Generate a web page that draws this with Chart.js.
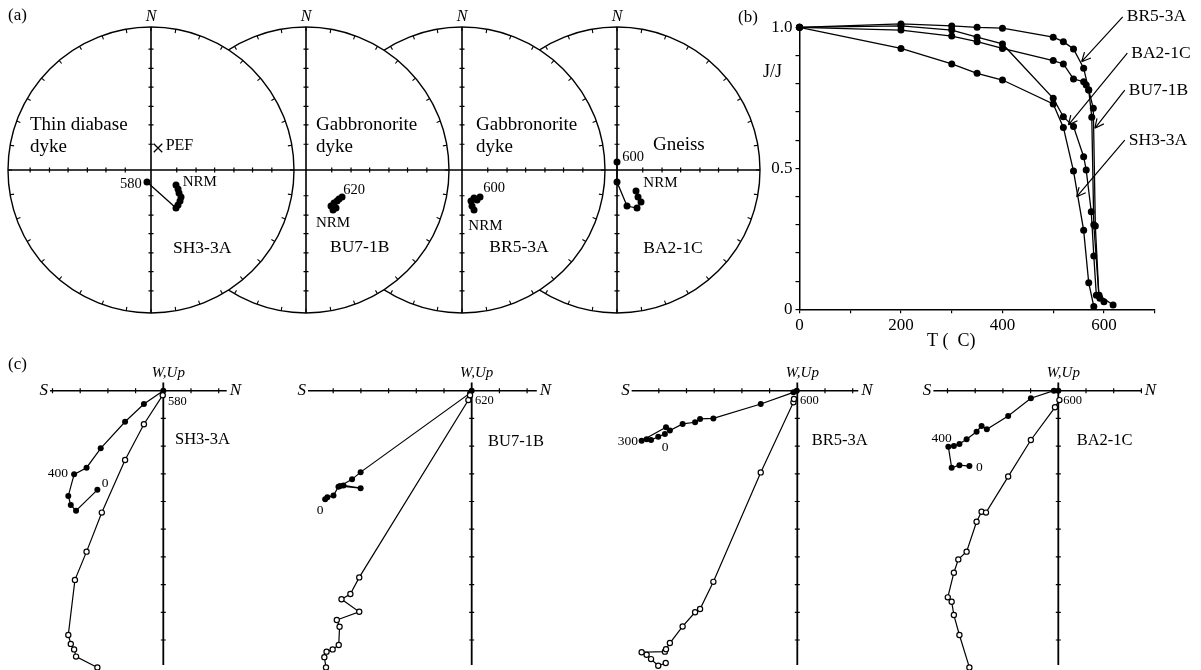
<!DOCTYPE html>
<html>
<head>
<meta charset="utf-8">
<script src="https://cdn.jsdelivr.net/npm/chart.js@4.4.0/dist/chart.umd.min.js"></script>
<style>
  body { margin: 0; background: #fff; width: 1201px; height: 670px; position: relative; overflow: hidden; }
  canvas { position: absolute; }
</style>
</head>
<body>
<canvas id="nets" width="780" height="335" style="left:0;top:0"></canvas>
<canvas id="thermal" width="481" height="360" style="left:720px;top:0"></canvas>
<canvas id="zij1" width="290" height="320" style="left:0;top:355px"></canvas>
<canvas id="zij2" width="300" height="320" style="left:290px;top:355px"></canvas>
<canvas id="zij3" width="290" height="320" style="left:610px;top:355px"></canvas>
<canvas id="zij4" width="291" height="320" style="left:910px;top:355px"></canvas>
<script>
// ---- (a) equal-area directions, net units (offset from each net's centre) ----
const sh3Dir = [[0.175,-0.105],[0.189,-0.133],[0.196,-0.161],[0.210,-0.189],[0.203,-0.217],[0.189,-0.245],[0.175,-0.266],[-0.028,-0.084]];
const bu7Dir = [[0.175,-0.252],[0.189,-0.280],[0.210,-0.266],[0.196,-0.231],[0.217,-0.217],[0.231,-0.203],[0.252,-0.189]];
const br5Dir = [[0.070,-0.252],[0.084,-0.280],[0.063,-0.217],[0.084,-0.196],[0.105,-0.210],[0.126,-0.189]];
const ba2Dir = [[0.133,-0.147],[0.147,-0.189],[0.168,-0.224],[0.140,-0.266],[0.070,-0.252],[0,-0.084],[0,0.056]];
const pefDir = [0.049, 0.154];

// ---- (b) thermal demagnetisation J/J0 vs T ----
const tBR5 = [0,200,300,350,400,500,520,540,560,570,576,580,590,600];
const jBR5 = [1,1.012,1.005,1.0,0.997,0.965,0.949,0.923,0.855,0.778,0.681,0.30,0.05,0.027];
const tBA2 = [0,200,300,350,400,500,520,540,560,565,575,580,585,592];
const jBA2 = [1,1.005,0.99,0.965,0.941,0.748,0.683,0.648,0.541,0.494,0.346,0.189,0.05,0.039];
const tBU7 = [0,200,300,350,400,500,520,540,560,565,570,579,583,590,618];
const jBU7 = [1,0.99,0.969,0.949,0.925,0.882,0.870,0.817,0.807,0.795,0.778,0.713,0.295,0.05,0.015];
const tSH3 = [0,200,300,350,400,500,520,540,560,570,580];
const jSH3 = [1,0.925,0.87,0.837,0.813,0.728,0.645,0.49,0.28,0.094,0.01];

// ---- (c) orthogonal projections, x = N, y = W/Up (units of axis ticks) ----
const sh3Horiz = [[-2.38,-3.58],[-3.15,-4.33],[-3.34,-4.13],[-3.43,-3.80],[-3.22,-3.02],[-2.77,-2.78],[-2.26,-2.08],[-1.38,-1.12],[-0.70,-0.48],[0,0]];
const sh3Vert  = [[-2.38,-9.99],[-3.15,-9.60],[-3.22,-9.34],[-3.34,-9.14],[-3.43,-8.82],[-3.19,-6.83],[-2.77,-5.81],[-2.22,-4.40],[-1.38,-2.50],[-0.70,-1.21],[-0.02,-0.16]];
const bu7Horiz = [[-5.29,-3.92],[-5.21,-3.85],[-4.99,-3.78],[-4.81,-3.47],[-4.63,-3.42],[-4.01,-3.52],[-4.75,-3.44],[-4.32,-3.20],[-4.01,-2.94],[-0.06,-0.09],[0,0]];
const bu7Vert  = [[-5.26,-9.99],[-5.32,-9.62],[-5.24,-9.42],[-5.02,-9.34],[-4.80,-9.18],[-4.77,-8.52],[-4.87,-8.28],[-4.06,-7.98],[-4.70,-7.53],[-4.38,-7.34],[-4.06,-6.74],[-0.12,-0.34],[-0.06,-0.16]];
const br5Horiz = [[-4.78,-1.56],[-5.02,-1.66],[-5.28,-1.78],[-5.44,-1.75],[-5.62,-1.81],[-4.74,-1.32],[-4.60,-1.44],[-4.14,-1.20],[-3.69,-1.14],[-3.51,-1.02],[-3.03,-1.00],[-1.32,-0.48],[-0.14,-0.06],[-0.02,0]];
const br5Vert  = [[-4.75,-9.83],[-5.02,-9.93],[-5.28,-9.69],[-5.44,-9.53],[-5.62,-9.44],[-4.78,-9.42],[-4.74,-9.33],[-4.60,-9.11],[-4.14,-8.51],[-3.69,-8.00],[-3.51,-7.88],[-3.03,-6.90],[-1.32,-2.95],[-0.14,-0.42],[-0.12,-0.30]];
const ba2Horiz = [[-3.21,-2.72],[-3.57,-2.69],[-3.85,-2.78],[-3.97,-2.02],[-3.77,-2.00],[-3.57,-1.92],[-3.31,-1.75],[-2.95,-1.48],[-2.77,-1.27],[-2.58,-1.39],[-1.81,-0.91],[-0.99,-0.27],[-0.16,0],[0,0]];
const ba2Vert  = [[-3.21,-9.99],[-3.57,-8.82],[-3.77,-8.10],[-3.85,-7.62],[-3.99,-7.46],[-3.77,-6.57],[-3.61,-6.09],[-3.31,-5.81],[-2.95,-4.73],[-2.77,-4.37],[-2.61,-4.40],[-1.81,-3.10],[-0.99,-1.78],[-0.12,-0.60],[0.04,-0.34]];

const SERIF = "'Liberation Serif', 'Times New Roman', serif";
Chart.defaults.font.family = SERIF;
Chart.defaults.color = '#000';
Chart.defaults.animation = false;
Chart.defaults.layout.autoPadding = false;
Chart.defaults.plugins.legend.display = false;
Chart.defaults.plugins.tooltip.enabled = false;

const pts = arr => arr.map(([x, y]) => ({ x, y }));

function text(ctx, str, x, y, size, align, italic) {
  ctx.font = (italic ? 'italic ' : '') + size + 'px ' + SERIF;
  ctx.textAlign = align || 'left';
  ctx.textBaseline = 'middle';
  ctx.fillStyle = '#000';
  ctx.fillText(str, x, y);
}

// ================= (a) stereonets =================
const R = 143;
const netCenters = [0, 155 / R, 311 / R, 466 / R];
const crossTicks = [0.18, 0.315, 0.445, 0.58, 0.71, 0.845];
const netLabels = [
  [0, 'Thin diabase', -121, -45, 19], [0, 'dyke', -121, -23, 19],
  [0, 'PEF', 14.7, -24.3, 16], [0, '580', -9.3, 14, 14.5, 'right'], [0, 'NRM', 31.7, 11.7, 15],
  [0, 'SH3-3A', 22, 78, 17.5],
  [1, 'Gabbronorite', 10, -45, 19], [1, 'dyke', 10, -23, 19],
  [1, '620', 37.3, 20, 14.5], [1, 'NRM', 10, 53.3, 15], [1, 'BU7-1B', 24, 77, 17.5],
  [2, 'Gabbronorite', 14, -45, 19], [2, 'dyke', 14, -23, 19],
  [2, '600', 21.3, 18.3, 14.5], [2, 'NRM', 6.3, 56, 15], [2, 'BR5-3A', 27.3, 77, 17.5],
  [3, 'Gneiss', 36, -25, 19],
  [3, '600', 5.3, -13.3, 14.5], [3, 'NRM', 26.3, 13.3, 15], [3, 'BA2-1C', 26.3, 78, 17.5]
];

const netPlugin = {
  id: 'nets',
  beforeDatasetsDraw(chart) {
    const { ctx, scales: { x, y } } = chart;
    const cy = y.getPixelForValue(0);
    ctx.save();
    ctx.strokeStyle = '#000';
    for (let i = netCenters.length - 1; i >= 0; i--) {
      const cx = x.getPixelForValue(netCenters[i]);
      const r = x.getPixelForValue(netCenters[i] + 1) - cx;
      ctx.beginPath();
      ctx.arc(cx, cy, r, 0, Math.PI * 2);
      ctx.fillStyle = '#fff';
      ctx.fill();
      ctx.lineWidth = 1.4;
      ctx.stroke();
      ctx.beginPath();
      for (let a = 0; a < 360; a += 10) {
        const t = a * Math.PI / 180;
        ctx.moveTo(cx + r * Math.cos(t), cy + r * Math.sin(t));
        ctx.lineTo(cx + (r - 4) * Math.cos(t), cy + (r - 4) * Math.sin(t));
      }
      ctx.lineWidth = 1.1;
      ctx.stroke();
      ctx.beginPath();
      ctx.moveTo(cx - r, cy); ctx.lineTo(cx + r, cy);
      ctx.moveTo(cx, cy - r); ctx.lineTo(cx, cy + r);
      ctx.lineWidth = 1.6;
      ctx.stroke();
      ctx.beginPath();
      crossTicks.forEach(f => {
        [-1, 1].forEach(s => {
          const d = s * f * r;
          ctx.moveTo(cx + d, cy - 2.5); ctx.lineTo(cx + d, cy + 2.5);
          ctx.moveTo(cx - 2.5, cy + d); ctx.lineTo(cx + 2.5, cy + d);
        });
      });
      ctx.lineWidth = 1.2;
      ctx.stroke();
    }
    ctx.restore();
  },
  afterDatasetsDraw(chart) {
    const { ctx, scales: { x, y } } = chart;
    const cy = y.getPixelForValue(0);
    ctx.save();
    netCenters.forEach(c => text(ctx, 'N', x.getPixelForValue(c), cy - 153, 16, 'center', true));
    netLabels.forEach(([i, s, dx, dy, size, align]) => {
      text(ctx, s, x.getPixelForValue(netCenters[i]) + dx, cy + dy, size, align);
    });
    text(ctx, '(a)', 8, 16, 17);
    ctx.restore();
  }
};

const netSets = [sh3Dir, bu7Dir, br5Dir, ba2Dir].map((arr, i) => ({
  data: arr.map(([dx, dy]) => ({ x: netCenters[i] + dx, y: dy })),
  showLine: true, borderColor: '#000', borderWidth: 1.3,
  pointRadius: 3.5, pointBackgroundColor: '#000', pointBorderWidth: 0
}));
netSets.push({
  data: [{ x: netCenters[0] + pefDir[0], y: pefDir[1] }],
  pointStyle: 'crossRot', pointRadius: 6, pointBorderColor: '#000', pointBorderWidth: 1.3
});

new Chart(document.getElementById('nets'), {
  type: 'scatter',
  data: { datasets: netSets },
  options: {
    responsive: false,
    layout: { padding: 0 },
    scales: {
      x: { display: false, min: -151 / R, max: -151 / R + 780 / R },
      y: { display: false, min: 170 / R - 335 / R, max: 170 / R }
    }
  },
  plugins: [netPlugin]
});

// ================= (b) J/J0 vs T =================
const thermalSeries = [[tBR5, jBR5], [tBA2, jBA2], [tBU7, jBU7], [tSH3, jSH3]];
const arrowNotes = [
  ['BR5-3A', [637, 1.037], [556, 0.878]],
  ['BA2-1C', [646, 0.908], [530, 0.654]],
  ['BU7-1B', [641, 0.777], [582, 0.642]],
  ['SH3-3A', [641, 0.60], [546, 0.399]]
];

const thermalPlugin = {
  id: 'thermalNotes',
  afterDatasetsDraw(chart) {
    const { ctx, scales: { x, y } } = chart;
    ctx.save();
    ctx.strokeStyle = '#000';
    ctx.lineWidth = 1.2;
    arrowNotes.forEach(([label, tail, head]) => {
      const x0 = x.getPixelForValue(tail[0]), y0 = y.getPixelForValue(tail[1]);
      const x1 = x.getPixelForValue(head[0]), y1 = y.getPixelForValue(head[1]);
      const ang = Math.atan2(y1 - y0, x1 - x0);
      ctx.beginPath();
      ctx.moveTo(x0, y0); ctx.lineTo(x1, y1);
      [-0.45, 0.45].forEach(d => {
        ctx.moveTo(x1, y1);
        ctx.lineTo(x1 - 10 * Math.cos(ang + d), y1 - 10 * Math.sin(ang + d));
      });
      ctx.stroke();
      text(ctx, label, x0 + 4, y0, 17.5);
    });
    text(ctx, '(b)', 18, 18, 17);
    text(ctx, 'J/J', 43, 72, 18);
    text(ctx, 'T (  C)', 207, 341, 18);
    ctx.restore();
  }
};

new Chart(document.getElementById('thermal'), {
  type: 'scatter',
  data: {
    datasets: thermalSeries.map(([t, j]) => ({
      data: t.map((v, k) => ({ x: v, y: j[k] })),
      showLine: true, borderColor: '#000', borderWidth: 1.3, clip: false,
      pointRadius: 3.5, pointBackgroundColor: '#000', pointBorderWidth: 0
    }))
  },
  options: {
    responsive: false,
    layout: { padding: { left: 0, top: 27.3, right: 46.3, bottom: 0 } },
    scales: {
      x: {
        type: 'linear', min: 0, max: 700,
        afterFit(s) { s.height = 50.7; },
        ticks: { stepSize: 100, autoSkip: false, maxRotation: 0, padding: 2,
          font: { size: 17 }, callback: v => (v % 200 === 0 ? String(v) : '') },
        grid: { drawOnChartArea: false, color: '#000', tickLength: 4, lineWidth: 1.2 },
        border: { color: '#000', width: 1.5 }
      },
      y: {
        min: 0, max: 1,
        afterFit(s) { s.width = 79.5; },
        ticks: { stepSize: 0.1, autoSkip: false, padding: 3, font: { size: 17 },
          callback: v => (Math.abs(v - 1) < 1e-6 ? '1.0' : Math.abs(v - 0.5) < 1e-6 ? '0.5' : Math.abs(v) < 1e-6 ? '0' : '') },
        grid: { drawOnChartArea: false, color: '#000', tickLength: 4, lineWidth: 1.2 },
        border: { color: '#000', width: 1.5 }
      }
    }
  },
  plugins: [thermalPlugin]
});

// ================= (c) orthogonal plots =================
const U = 27.7;           // px per axis tick
const ORIGIN_Y = 35.7;    // origin row inside each (c) canvas
const zijPanels = [
  { id: 'zij1', ox: 163.3, axis: [-4.09, 2.29, -9.9], horiz: sh3Horiz, vert: sh3Vert,
    labels: [['580', 4.7, 11.3, 12.5], ['SH3-3A', 11.7, 49.3, 16.5], ['400', -95.3, 82.3, 13.5, 'right'], ['0', -61.6, 92.6, 13.5]],
    extra: [['(c)', 8, 10, 17]] },
  { id: 'zij2', ox: 181.7, axis: [-5.91, 2.35, -9.9], horiz: bu7Horiz, vert: bu7Vert,
    labels: [['620', 3.3, 10.3, 12.5], ['BU7-1B', 16.3, 51, 16.5], ['0', -151.7, 119.3, 13.5, 'center']] },
  { id: 'zij3', ox: 187.3, axis: [-5.98, 2.2, -9.9], horiz: br5Horiz, vert: br5Vert,
    labels: [['300', -159.3, 50.5, 13.5, 'right'], ['0', -132.3, 56.6, 13.5, 'center'], ['600', 2.7, 10.3, 12.5], ['BR5-3A', 14.4, 50, 16.5]] },
  { id: 'zij4', ox: 148.3, axis: [-4.51, 3.01, -9.9], horiz: ba2Horiz, vert: ba2Vert,
    labels: [['400', -106.6, 47.6, 13.5, 'right'], ['0', -82.3, 76.3, 13.5], ['600', 5, 10.3, 12.5], ['BA2-1C', 18.4, 50, 16.5]] }
];

zijPanels.forEach(p => {
  const canvas = document.getElementById(p.id);
  const W = canvas.width, H = canvas.height;
  const plugin = {
    id: 'zijAxes',
    beforeDatasetsDraw(chart) {
      const { ctx, scales: { x, y } } = chart;
      const ox = x.getPixelForValue(0), oy = y.getPixelForValue(0);
      const xl = x.getPixelForValue(p.axis[0]), xr = x.getPixelForValue(p.axis[1]);
      const yb = y.getPixelForValue(p.axis[2]);
      ctx.save();
      ctx.strokeStyle = '#000';
      ctx.beginPath();
      ctx.moveTo(xl, oy); ctx.lineTo(xr, oy);
      ctx.lineWidth = 1.4; ctx.stroke();
      ctx.beginPath();
      ctx.moveTo(ox, y.getPixelForValue(0.3)); ctx.lineTo(ox, yb);
      ctx.lineWidth = 1.8; ctx.stroke();
      ctx.beginPath();
      for (let v = Math.ceil(p.axis[0]); v <= p.axis[1]; v++) {
        if (v === 0) continue;
        const px = x.getPixelForValue(v);
        ctx.moveTo(px, oy - 2.5); ctx.lineTo(px, oy + 2.5);
      }
      for (let v = -1; v >= p.axis[2]; v--) {
        const py = y.getPixelForValue(v);
        ctx.moveTo(ox - 2.5, py); ctx.lineTo(ox + 2.5, py);
      }
      ctx.lineWidth = 1.2; ctx.stroke();
      text(ctx, 'S', xl - 2, oy, 17, 'right', true);
      text(ctx, 'N', xr + 3, oy, 17, 'left', true);
      text(ctx, 'W,Up', ox + 5, oy - 17.5, 15, 'center', true);
      ctx.restore();
    },
    afterDatasetsDraw(chart) {
      const { ctx, scales: { x, y } } = chart;
      const ox = x.getPixelForValue(0), oy = y.getPixelForValue(0);
      ctx.save();
      p.labels.forEach(([s, dx, dy, size, align]) => text(ctx, s, ox + dx, oy + dy, size, align));
      (p.extra || []).forEach(([s, px, py, size]) => text(ctx, s, px, py, size));
      ctx.restore();
    }
  };
  new Chart(canvas, {
    type: 'scatter',
    data: {
      datasets: [
        { data: pts(p.vert), showLine: true, borderColor: '#000', borderWidth: 1.2,
          pointRadius: 2.6, pointBackgroundColor: '#fff', pointBorderColor: '#000', pointBorderWidth: 1.2 },
        { data: pts(p.horiz), showLine: true, borderColor: '#000', borderWidth: 1.2,
          pointRadius: 3, pointBackgroundColor: '#000', pointBorderWidth: 0 }
      ]
    },
    options: {
      responsive: false,
      layout: { padding: 0 },
      scales: {
        x: { display: false, min: -p.ox / U, max: (W - p.ox) / U },
        y: { display: false, min: (ORIGIN_Y - H) / U, max: ORIGIN_Y / U }
      }
    },
    plugins: [plugin]
  });
});
</script>
</body>
</html>
